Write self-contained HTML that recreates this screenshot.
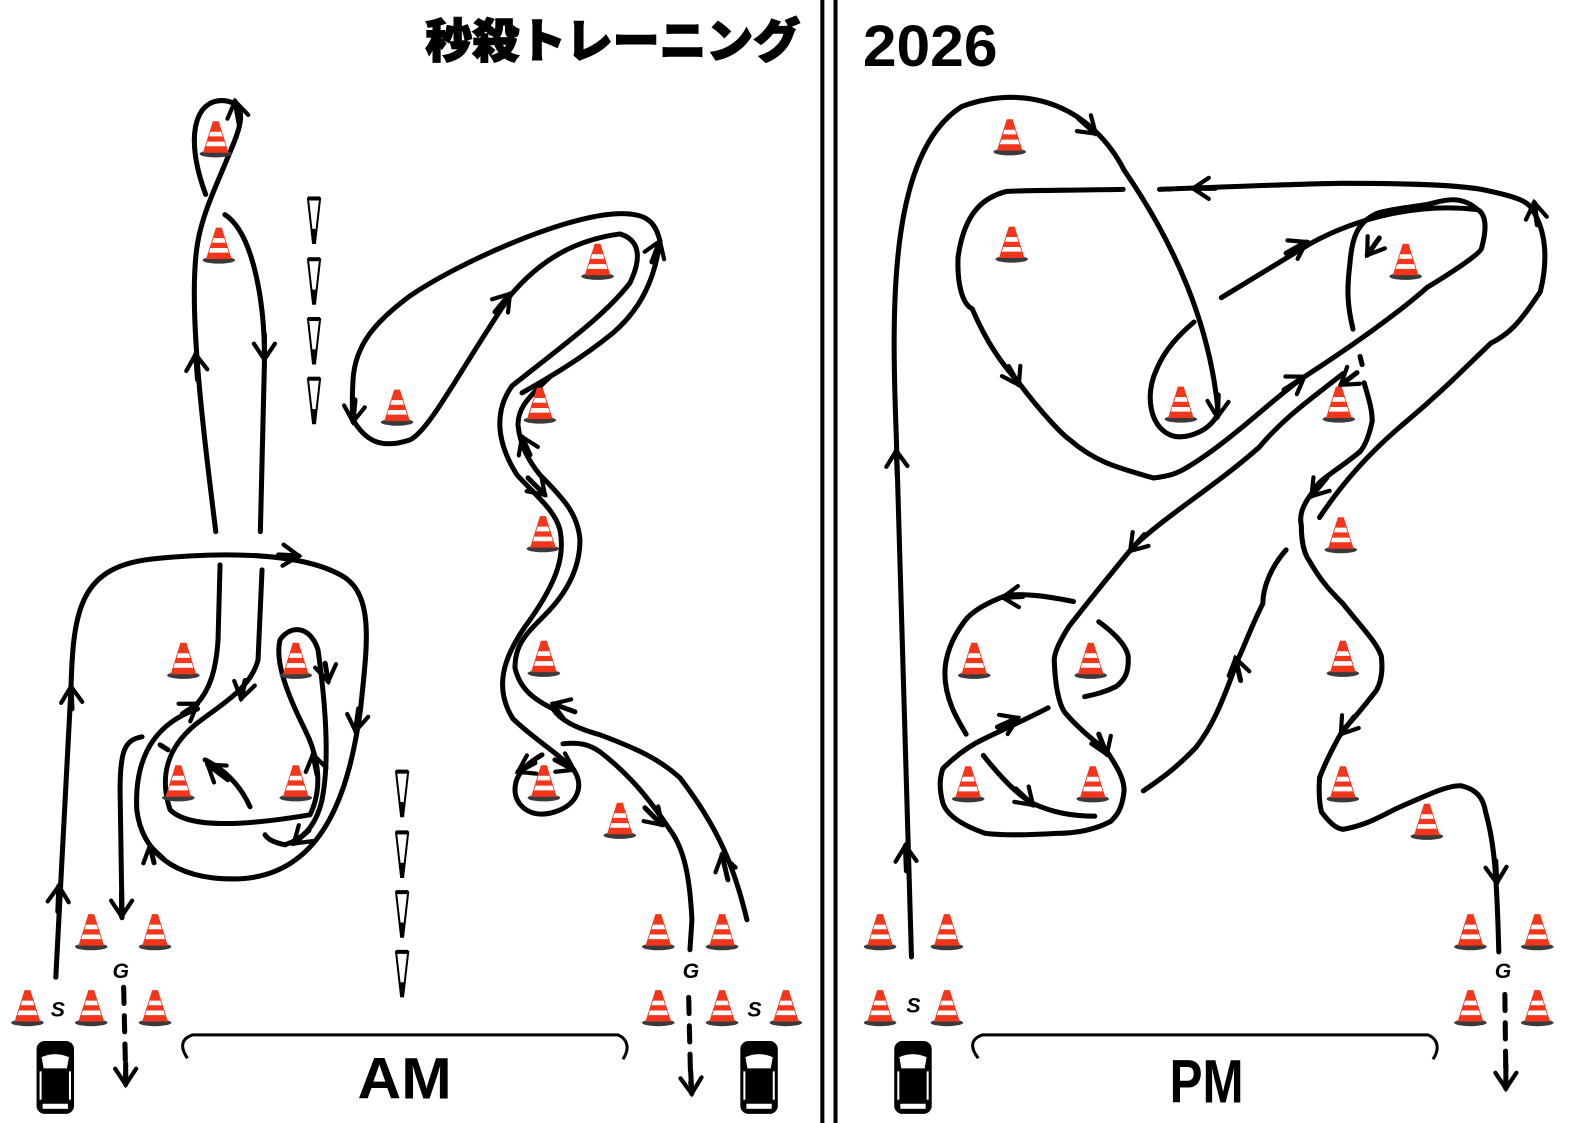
<!DOCTYPE html>
<html><head><meta charset="utf-8"><style>
html,body{margin:0;padding:0;background:#fff;}
svg{display:block;}
</style></head><body>
<svg width="1588" height="1123" viewBox="0 0 1568 1109" xmlns="http://www.w3.org/2000/svg">
<defs>
<marker id="a" viewBox="0 0 20 20" refX="14" refY="10" markerWidth="26" markerHeight="26" markerUnits="userSpaceOnUse" orient="auto">
<path d="M2,2 L14,10 L2,18" fill="none" stroke="#000" stroke-width="3.2" stroke-linecap="round"/>
</marker>
<g id="c" transform="scale(1.15)">
<ellipse cx="0" cy="13" rx="14" ry="3" fill="#3a3a3a"/>
<path d="M-2.5,-15 L2.5,-15 L11,12 L-11,12 Z" fill="#f2361c"/>
<path d="M-4.6,-6 L4.6,-6 L5.8,-2 L-5.8,-2 Z" fill="#fff"/>
<path d="M-7.3,2.5 L7.3,2.5 L8.5,6.5 L-8.5,6.5 Z" fill="#fff"/>
</g>
<g id="t">
<path d="M-6,0 L6,0 L1,44 L-1,44 Z" fill="#fff" stroke="#000" stroke-width="2"/>
<path d="M-6,0 L6,0" stroke="#000" stroke-width="4"/>
<path d="M0,30 L0,44" stroke="#000" stroke-width="3"/>
</g>
<g id="car">
<rect x="0" y="0" width="37" height="72" rx="8" fill="#000"/>
<path d="M5,16 Q18,10 32,16 L30,27 L7,27 Z" fill="#fff"/>
<rect x="6" y="62" width="25" height="5" fill="#fff"/>
<rect x="3" y="30" width="2" height="28" fill="#fff"/>
<rect x="32" y="30" width="2" height="28" fill="#fff"/>
</g>
</defs>

<line x1="812" y1="0" x2="812" y2="1109" stroke="#000" stroke-width="4"/>
<line x1="825" y1="0" x2="825" y2="1109" stroke="#000" stroke-width="4"/>

<text x="420" y="57" font-family="'Liberation Sans','Noto Sans CJK JP',sans-serif" font-weight="900" font-size="46" textLength="370" lengthAdjust="spacingAndGlyphs" stroke="#000" stroke-width="1.5">秒殺トレーニング</text>
<text x="852" y="65" font-family="'Liberation Sans',sans-serif" font-weight="bold" font-size="58" textLength="133" lengthAdjust="spacingAndGlyphs">2026</text>
<text x="353" y="1085" font-family="'Liberation Sans',sans-serif" font-weight="bold" font-size="58" textLength="93" lengthAdjust="spacingAndGlyphs">AM</text>
<text x="1155" y="1089" font-family="'Liberation Sans',sans-serif" font-weight="bold" font-size="60" textLength="73" lengthAdjust="spacingAndGlyphs">PM</text>

<g font-family="'Liberation Sans',sans-serif" font-weight="bold" font-style="italic" font-size="21">
<text x="50" y="1004">S</text><text x="111" y="966">G</text>
<text x="674" y="966">G</text><text x="738" y="1004">S</text>
<text x="895" y="1000">S</text><text x="1476" y="966">G</text>
</g>

<g fill="none" stroke="#000" stroke-width="3">
<path d="M185,1045 C178,1035 178,1026 190,1022 L610,1022 C620,1026 622,1036 615,1046"/>
<path d="M966,1045 C958,1035 958,1026 970,1022 L1410,1022 C1420,1026 1422,1036 1415,1046"/>
</g>

<use href="#car" x="36" y="1028"/>
<use href="#car" x="731" y="1028"/>
<use href="#car" x="883" y="1028"/>

<use href="#t" x="310" y="196"/><use href="#t" x="310" y="256"/><use href="#t" x="310" y="315"/><use href="#t" x="310" y="374"/>
<use href="#t" x="397" y="762"/><use href="#t" x="397" y="822"/><use href="#t" x="397" y="881"/><use href="#t" x="397" y="940"/>

<g fill="none" stroke="#000" stroke-width="5" stroke-linecap="round" stroke-linejoin="round">
<path d="M213,525 C200,420 185,300 195,240 C200,210 215,180 225,155 C238,125 245,105 225,100 C195,94 180,130 203,192"/>
<path d="M222,212 C250,230 262,300 261,360 L257,525"/>
<path d="M55,965 L70,680 C72,600 80,560 150,552 C220,545 300,545 340,570 C370,590 362,640 356,700 C345,780 320,868 230,868 C170,868 140,840 135,800 C132,740 160,712 195,700"/>
<g transform="scale(0.9873)">
<path d="M196,705 C210,690 216,670 218,640 L220,565"/>
<path d="M262,570 L258,660 C250,690 220,705 195,725 C165,750 160,780 170,810 C190,830 250,825 310,815 C322,790 320,760 305,730 C285,690 275,660 280,640 C290,625 310,625 318,650 C325,700 330,760 322,800 C315,830 300,840 285,845"/>
<path d="M285,845 C275,843 268,840 265,835"/>
<path d="M250,807 C240,785 225,770 205,760"/>
<path d="M160,745 L168,750"/>
<path d="M142,737 C125,740 120,750 120,790 L122,918"/>
</g>
<g transform="scale(0.9873)">
<path d="M522,393 C545,380 580,360 613,333 C640,310 655,280 660,241 C655,220 645,212 613,214 C560,218 460,262 410,296 C375,322 355,345 353,380 C352,400 352,412 353,420 C365,440 380,450 410,440 C430,430 460,370 510,296 C540,260 575,240 620,234 C640,240 642,258 630,283 C605,315 570,340 512,386 C495,410 495,440 517,475 C535,495 555,510 560,530 C565,555 558,580 530,620 C500,660 495,690 513,719 C535,740 560,755 573,769 C585,785 578,805 555,812 C530,820 515,805 515,790 C515,775 525,765 542,755"/>
<path d="M747,920 C735,870 720,830 680,778 C660,760 640,750 600,735 C575,728 560,720 553,709 C535,700 520,690 515,668 C515,645 525,635 545,615 C570,590 580,565 580,540 C578,515 565,500 540,475 C528,460 520,445 518,425 C518,410 525,400 550,377"/>
<path d="M563,744 C580,742 590,745 600,752 C630,775 650,800 670,830 C685,850 690,880 692,920 L690,950"/>
</g>
<path d="M122,975 L124,1062" stroke-dasharray="16,12"/>
<path d="M680,985 L682,1070" stroke-dasharray="16,12"/>

<path d="M900,945 L885,430 C880,300 878,150 950,105 C1020,80 1080,110 1110,168 C1160,241 1195,320 1203,408 C1195,425 1175,433 1160,431 C1135,425 1130,390 1142,365 C1150,345 1165,330 1179,318"/>
<path d="M1109,187 C1050,188 1010,188 994,189 C970,195 952,211 946,254 C945,280 950,300 960,305 C975,340 990,360 1006,378 C1030,410 1050,430 1056,434 C1080,455 1100,461 1139,472 C1155,470 1160,468 1168,464 C1210,440 1250,400 1285,374 C1330,345 1380,310 1409,284 C1440,265 1462,250 1463,245 C1470,220 1465,210 1459,207 C1440,190 1420,200 1409,202 C1390,205 1370,207 1359,211 C1340,220 1335,235 1333,260 C1330,285 1330,300 1336,325"/>
<path d="M1206,294 L1293,241 C1340,215 1400,200 1459,207"/>
<path d="M1145,187 C1250,183 1300,181 1326,181 C1400,181 1450,183 1472,189 C1500,195 1510,200 1513,207 C1528,230 1528,260 1521,288 C1500,320 1490,330 1472,339 C1440,370 1420,390 1389,416 C1360,440 1330,470 1303,511"/>
<path d="M1343,446 C1320,465 1300,475 1297,485 C1285,500 1283,510 1285,519 C1285,540 1290,550 1293,554 C1305,575 1315,585 1326,596 C1345,620 1360,635 1364,648 C1366,665 1363,675 1359,682 C1345,700 1335,712 1326,721 C1315,740 1308,755 1303,768 C1302,785 1303,795 1305,802 C1315,815 1320,818 1326,819 C1350,815 1365,805 1380,798 C1410,785 1430,775 1443,776 C1460,780 1465,790 1467,802 C1475,830 1478,860 1480,940"/>
<path d="M1347,378 C1352,395 1355,405 1355,416 C1352,430 1348,440 1343,446"/>
<path d="M1343,352 L1345,360"/>
<path d="M1326,369 C1300,390 1270,410 1243,442 C1200,480 1150,510 1118,541 C1090,575 1070,600 1056,618 C1045,635 1041,645 1041,652 C1042,680 1046,695 1051,703 C1065,720 1085,735 1093,742 C1105,760 1110,770 1110,781 C1108,800 1102,806 1097,811 C1080,820 1060,823 1043,823 C1010,825 990,825 973,823 C950,815 935,805 931,793 C927,778 928,768 931,759 C945,745 960,735 973,729 C1000,716 1020,707 1035,699"/>
<path d="M1060,594 C1030,588 1010,586 994,588 C975,595 960,603 952,614 C940,630 933,648 933,665 C933,690 945,710 954,725"/>
<path d="M1085,614 C1100,625 1112,637 1114,648 C1115,665 1110,672 1102,678 C1090,684 1080,686 1071,688"/>
<path d="M971,746 C990,770 1005,785 1019,793 C1040,803 1060,806 1081,806"/>
<path d="M1270,543 C1255,560 1247,580 1247,596 C1235,620 1228,640 1222,652 C1205,700 1195,720 1181,738 C1160,760 1145,770 1129,781"/>
<path d="M1486,982 L1487,1065" stroke-dasharray="16,12"/>

<g marker-end="url(#a)">
<path d="M195,375 L193,350"/><path d="M261,330 L261,355"/><path d="M236,122 L232,100"/>
<path d="M275,548 L295,549"/><path d="M354,700 L351,722"/><path d="M71,700 L70,678"/><path d="M57,900 L58,875"/>
<path d="M152,852 L148,835"/><path d="M180,705 L195,695"/><path d="M242,672 L238,690"/>
<path d="M225,770 L205,755"/><path d="M313,765 L309,745"/><path d="M321,655 L324,673"/>
<path d="M305,820 L290,833"/><path d="M120,880 L120,905"/>
<path d="M124,1050 L124,1071"/><path d="M682,1058 L683,1080"/>
<g transform="scale(0.9873)">
<path d="M495,312 L510,294"/><path d="M355,400 L353,422"/><path d="M652,262 L660,241"/>
<path d="M530,455 L522,437"/><path d="M528,478 L545,495"/><path d="M575,712 L553,704"/>
<path d="M555,760 L574,770"/><path d="M535,763 L518,772"/><path d="M645,808 L662,825"/>
<path d="M728,880 L722,855"/>
</g>
<path d="M886,470 L885,445"/><path d="M895,860 L894,835"/><path d="M1065,117 L1082,132"/>
<path d="M1203,390 L1202,412"/><path d="M996,362 L1006,380"/><path d="M1270,250 L1290,239"/>
<path d="M1268,385 L1288,372"/><path d="M1362,235 L1350,252"/><path d="M1340,368 L1324,380"/>
<path d="M1130,528 L1116,544"/><path d="M1200,186 L1178,186"/><path d="M1518,222 L1515,200"/>
<path d="M1310,472 L1295,490"/><path d="M1337,708 L1324,725"/><path d="M1477,850 L1478,872"/>
<path d="M1010,589 L990,590"/><path d="M1225,672 L1220,650"/><path d="M985,718 L1005,709"/>
<path d="M1003,779 L1020,795"/><path d="M1085,725 L1093,745"/><path d="M1487,1052 L1487,1075"/>
</g>
</g>

<g>
<use href="#c" x="213" y="137"/><use href="#c" x="216" y="242"/><use href="#c" x="590" y="258"/>
<use href="#c" x="392" y="402"/><use href="#c" x="533" y="400"/><use href="#c" x="536" y="527"/>
<use href="#c" x="181" y="652"/><use href="#c" x="292" y="652"/><use href="#c" x="537" y="650"/>
<use href="#c" x="176" y="773"/><use href="#c" x="292" y="773"/><use href="#c" x="537" y="773"/>
<use href="#c" x="612" y="810"/>
<use href="#c" x="90" y="920"/><use href="#c" x="153" y="920"/>
<use href="#c" x="27" y="995"/><use href="#c" x="90" y="995"/><use href="#c" x="153" y="995"/>
<use href="#c" x="650" y="920"/><use href="#c" x="713" y="920"/>
<use href="#c" x="650" y="995"/><use href="#c" x="713" y="995"/><use href="#c" x="776" y="995"/>
<use href="#c" x="997" y="135"/><use href="#c" x="999" y="241"/><use href="#c" x="1388" y="258"/>
<use href="#c" x="1166" y="399"/><use href="#c" x="1322" y="399"/><use href="#c" x="1324" y="528"/>
<use href="#c" x="962" y="652"/><use href="#c" x="1077" y="652"/><use href="#c" x="1326" y="650"/>
<use href="#c" x="956" y="774"/><use href="#c" x="1079" y="774"/><use href="#c" x="1326" y="774"/>
<use href="#c" x="1409" y="811"/>
<use href="#c" x="869" y="920"/><use href="#c" x="935" y="920"/>
<use href="#c" x="869" y="995"/><use href="#c" x="935" y="995"/>
<use href="#c" x="1452" y="920"/><use href="#c" x="1518" y="920"/>
<use href="#c" x="1452" y="995"/><use href="#c" x="1518" y="995"/>
</g>
</svg>
</body></html>
